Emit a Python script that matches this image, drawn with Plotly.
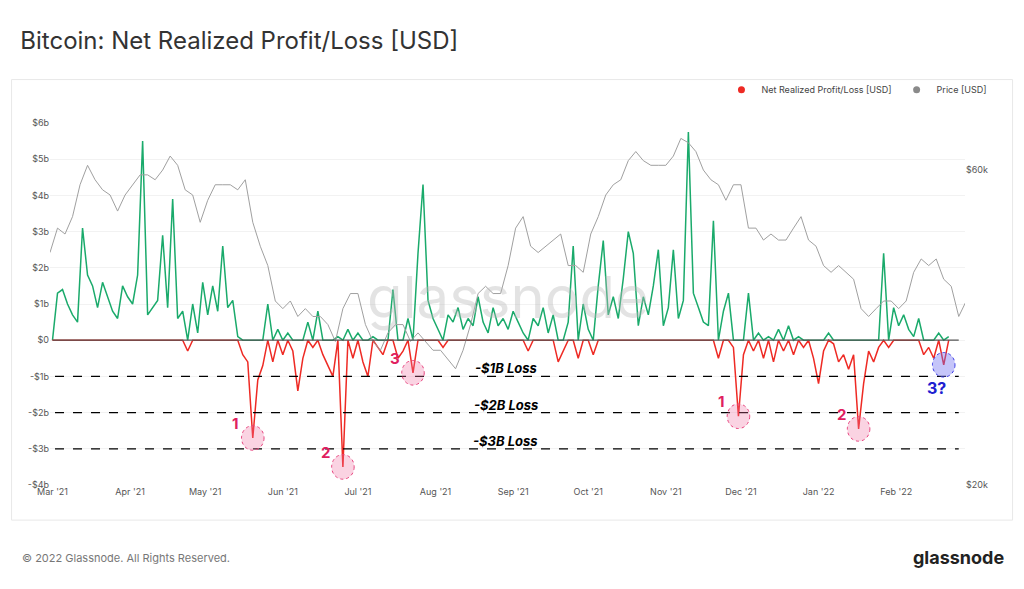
import pandas as pd
import numpy as np
import plotly.graph_objects as go

pnl = [0, 1.3, 1.4, 1.0, 0.7, 0.5, 3.1, 1.8, 1.5, 0.9, 1.6, 1.2, 0.8, 0.6, 1.5, 1.2,
       1.0, 1.8, 5.5, 0.7, 0.9, 1.1, 2.9, 0.9, 3.9, 0.6, 0.8, -0.3, 1.0, 0.2, 1.6, 0.7,
       1.5, 0.8, 2.6, 0.9, 1.1, 0.1, -0.4, -0.6, -2.7, -1.1, -0.7, 1.0, -0.6, 0.3, -0.4, 0.2,
       -0.3, -1.4, -0.5, 0.5, -0.2, 0.8, -0.4, -0.7, -1.0, 0.1, -3.5, 0.3, -0.5, 0.2, -0.6, -1.0,
       0.1, -0.2, -0.4, 0.0, 1.4, -0.5, -0.3, 0.6, -0.9, 2.4, 4.3, 1.1, 0.6, 0.3, -0.2, 0.7,
       0.5, 0.9, 0.3, 0.6, 0.4, 1.2, 0.5, 0.2, 0.9, 0.4, 0.6, 0.3, 0.8, 0.5, 0.2, -0.3,
       0.6, 0.4, 0.9, 0.2, 0.7, -0.6, -0.3, 0.5, 2.6, -0.5, 1.0, 0.3, -0.4, 1.5, 2.75, 0.7, 1.2,
       0.6, 1.7, 3.0, 2.4, 0.4, 1.2, 0.7, 1.5, 2.5, 0.4, 0.9, 2.5, 0.6, 1.1, 5.75,
       1.3, 0.9, 0.5, 0.4, 3.3, -0.5, 0.8, 1.3, -0.2, -2.1, -0.4, 1.3, -0.3, 0.2, -0.5,
       0.1, -0.6, 0.3, -0.3, 0.4, -0.4, 0.1, -0.2, 0.0, -0.5, -1.2, -0.3, 0.2, -0.1, -0.6, -0.4,
       -0.8, -0.4, -2.45, -1.2, -0.3, -0.6, -0.2, 2.4, -0.2, 0.9, 0.4, 0.7, 0.3, 0.1, 0.6, -0.4,
       -0.2, -0.5, 0.2, -0.68, 0.1]
pnl_dates = pd.date_range("2021-03-01", periods=len(pnl), freq="2D")

price = [45, 49, 48, 51, 57, 61, 58, 56, 55, 52, 55, 57, 59,
         59, 58, 60, 63, 61, 56, 55, 50, 54, 57,
         57, 57, 56, 58, 50, 46, 43, 38, 37, 38, 36, 37,
         36, 36, 35, 33, 37, 39, 39, 35, 33, 32, 34, 35,
         35, 33, 34, 33, 32, 32, 31, 30, 32, 35, 39, 40,
         39, 39, 43,
         49, 51, 46, 45, 46, 47, 48, 43, 43, 42,
         48, 51, 55, 57, 58, 62, 64, 62, 61, 61,
         61, 63, 67, 66, 64, 60, 58, 57, 54, 57,
         57, 49, 49, 47, 48, 47, 47, 49, 51, 47,
         46, 43, 42, 43, 42, 41, 37, 36, 37, 38,
         38, 37, 38, 42, 44, 43, 44, 41, 40, 36, 38]
price_dates = pd.date_range("2021-02-28", periods=len(price), freq="3D")

loss_levels = [-1, -2, -3]
loss_labels = ["-$1B Loss", "-$2B Loss", "-$3B Loss"]

# approximate dates of the circled loss events, label, colour
marks = [("2021-05-20", "1", "pink"), ("2021-06-25", "2", "pink"),
         ("2021-07-24", "3", "pink"), ("2021-12-02", "1", "pink"),
         ("2022-01-19", "2", "pink"), ("2022-02-24", "3?", "blue")]

fig = go.Figure()
pv = np.array(pnl)
fig.add_trace(go.Scatter(x=price_dates, y=[p * 1000 for p in price], yaxis="y2", mode="lines",
                         line=dict(color="#a0a0a0", width=1), showlegend=False))
fig.add_trace(go.Scatter(x=pnl_dates, y=np.maximum(pv, 0), mode="lines",
                         line=dict(color="#1aaa6b", width=1.5), showlegend=False))
fig.add_trace(go.Scatter(x=pnl_dates, y=np.minimum(pv, 0), mode="lines",
                         line=dict(color="#ee2a24", width=1.5), showlegend=False))
fig.add_trace(go.Scatter(x=[None], y=[None], mode="markers", marker=dict(color="#ee2a24", size=7),
                         name="Net Realized Profit/Loss [USD]"))
fig.add_trace(go.Scatter(x=[None], y=[None], mode="markers", marker=dict(color="#8a8a8a", size=7),
                         name="Price [USD]"))

shapes = [dict(type="rect", xref="paper", yref="paper", x0=-0.042, x1=1.052, y0=-0.097, y1=1.12,
               line=dict(color="#e8e8e8", width=1), layer="below"),
          dict(type="line", xref="x", yref="y", x0="2021-03-01", x1="2022-02-26", y0=0, y1=0,
               line=dict(color="#555", width=1.3))]
annotations = []
for lv, lb in zip(loss_levels, loss_labels):
    shapes.append(dict(type="line", xref="x", yref="y", x0="2021-03-02", x1="2022-02-26", y0=lv, y1=lv,
                       line=dict(color="black", width=1.2, dash="dash")))
    annotations.append(dict(x="2021-08-29", y=lv + 0.22, text="<b><i>" + lb + "</i></b>", showarrow=False,
                            font=dict(size=13, color="black", family="Inter")))
for d, t, c in marks:
    near = np.abs((pnl_dates - pd.Timestamp(d)).days) <= 4
    i = np.where(near)[0][np.argmin(pv[near])]
    dt, v = pnl_dates[i], pv[i]
    fill = "rgba(240,110,160,0.3)" if c == "pink" else "rgba(110,110,240,0.4)"
    lc = "#e8437e" if c == "pink" else "#3a3ae8"
    shapes.append(dict(type="circle", xref="x", yref="y",
                       x0=dt - pd.Timedelta(days=4.5), x1=dt + pd.Timedelta(days=4.5),
                       y0=v - 0.34, y1=v + 0.34, fillcolor=fill, line=dict(color=lc, width=1, dash="dot")))
    if c == "pink":
        annotations.append(dict(x=dt - pd.Timedelta(days=7), y=v + 0.4, text="<b>" + t + "</b>", showarrow=False,
                                font=dict(size=15, color="#e0205f")))
    else:
        annotations.append(dict(x=dt - pd.Timedelta(days=3), y=v - 0.65, text="<b>" + t + "</b>", showarrow=False,
                                font=dict(size=16, color="#2020d0")))

annotations += [
    dict(xref="paper", yref="paper", x=-0.033, y=-0.227, text="© 2022 Glassnode. All Rights Reserved.",
         showarrow=False, xanchor="left", font=dict(size=11, color="#777")),
    dict(xref="paper", yref="paper", x=1.045, y=-0.236, text="<b>glassnode</b>",
         showarrow=False, xanchor="right", font=dict(size=18, color="#222")),
    dict(xref="paper", yref="paper", x=0.5, y=0.52, text="glassnode", showarrow=False,
         font=dict(size=58, color="rgba(185,185,185,0.4)", family="Inter"), xanchor="center"),
]

fig.update_layout(
    width=1024, height=589, margin=dict(l=42, r=67, t=115, b=112, autoexpand=False),
    paper_bgcolor="white", plot_bgcolor="white",
    font=dict(family="Inter", color="#666"),
    title=dict(text="Bitcoin: Net Realized Profit/Loss [USD]", x=0.012, y=0.945, xanchor="left",
               yanchor="middle", pad=dict(l=0, t=0), font=dict(size=24, color="#333")),
    xaxis=dict(range=["2021-02-28", "2022-02-28 12:00"], tickformat="%b '%y", dtick="M1",
               tick0="2021-03-01", showgrid=False, tickfont=dict(size=9, color="#555"), ticks=""),
    yaxis=dict(range=[-4, 6], tickvals=[-4, -3, -2, -1, 0, 1, 2, 3, 4, 5, 6],
               ticktext=["-$4b", "-$3b", "-$2b", "-$1b", "$0", "$1b", "$2b", "$3b", "$4b", "$5b", "$6b"],
               gridcolor="#f2f2f2", zeroline=False, tickfont=dict(size=9, color="#555")),
    yaxis2=dict(overlaying="y", side="right", type="log", range=[np.log10(20000), np.log10(70700)],
                tickvals=[20000, 60000], ticktext=["$20k", "$60k"], showgrid=False,
                tickfont=dict(size=9, color="#555")),
    legend=dict(orientation="h", x=1.03, y=1.092, xanchor="right", yanchor="middle",
                font=dict(size=9, color="#444"), bgcolor="rgba(0,0,0,0)", itemwidth=30),
    shapes=shapes, annotations=annotations,
)
fig.write_html("out.html")
